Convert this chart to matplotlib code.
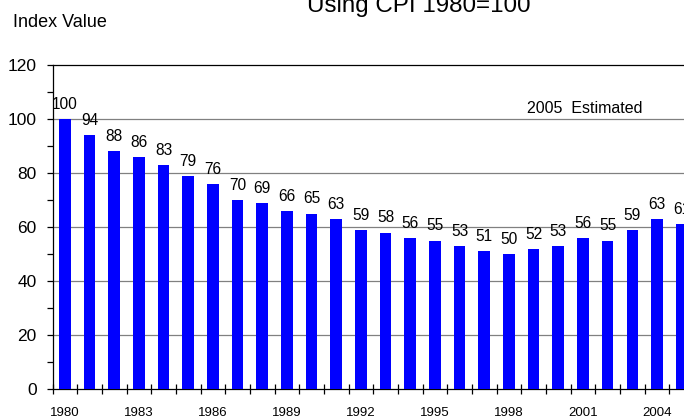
import matplotlib
matplotlib.use("Agg")
import matplotlib.pyplot as plt
from matplotlib.ticker import FixedLocator, NullFormatter

plt.rcParams['font.family'] = ['Liberation Sans', 'DejaVu Sans']

years = list(range(1980, 2006))
values = [100, 94, 88, 86, 83, 79, 76, 70, 69, 66, 65, 63, 59, 58, 56, 55,
          53, 51, 50, 52, 53, 56, 55, 59, 63, 61]
year_labels = [str(y) for y in years]
shown_every = 3

title = "Using CPI 1980=100"
ylabel = "Index Value"
note = "2005  Estimated"

W, H = 684, 419
fig = plt.figure(figsize=(W / 100, H / 100), dpi=100)
ax = fig.add_axes([52.5 / W, (H - 389.3) / H, 641.5 / W, (389.3 - 65) / H])

x = list(range(len(years)))
ax.bar(x, values, width=0.47, color='#0000FF', zorder=3)

for xi, v in zip(x, values):
    ax.annotate(f"{v:d}", (xi, v), xytext=(0, 5.2), textcoords='offset points',
                ha='center', va='bottom', fontsize=11.2, color='black', zorder=4)

ax.set_xlim(-0.5, len(years) - 0.5)
ax.set_ylim(0, 120)

# y axis
ax.set_yticks(range(0, 121, 20))
ax.yaxis.set_minor_locator(FixedLocator(range(10, 120, 20)))
ax.tick_params(axis='y', which='major', direction='out', length=4.3, width=0.9,
               labelsize=12.5, pad=7.2, colors='black')
ax.tick_params(axis='y', which='minor', direction='out', length=4.3, width=0.9)
for yv in range(20, 120, 20):
    ax.axhline(yv, color='#808080', lw=0.9, zorder=1)

# x axis
major_pos = x[::shown_every]
ax.set_xticks(major_pos)
ax.set_xticklabels(year_labels[::shown_every])
ax.xaxis.set_minor_locator(FixedLocator([i - 0.5 for i in range(len(years) + 1)]))
ax.xaxis.set_minor_formatter(NullFormatter())
ax.tick_params(axis='x', which='major', length=0, labelsize=9.5, pad=13)
ax.tick_params(axis='x', which='minor', direction='inout', length=6.5, width=0.9)

for s in ['left', 'bottom', 'top']:
    ax.spines[s].set_color('black')
    ax.spines[s].set_linewidth(0.9)
ax.spines['right'].set_visible(False)

ax.text(21.07, 102.1, note, ha='center', va='baseline', fontsize=11.5)

fig.text(12.7 / W, 1 - 26.7 / H, ylabel, ha='left', va='baseline', fontsize=13)
fig.text(418.5 / W, 1 - 12 / H, title, ha='center', va='baseline', fontsize=17.4)

fig.savefig("out.png", dpi=100)
